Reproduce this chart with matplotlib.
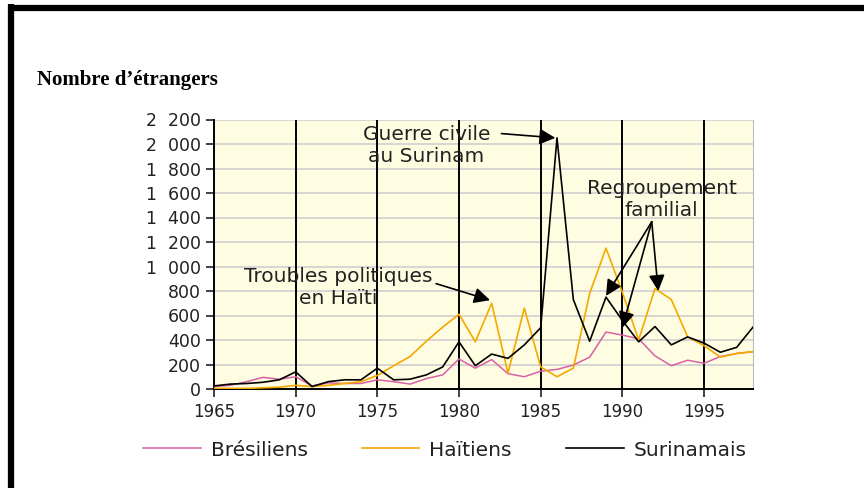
import matplotlib
matplotlib.use('Agg')
import matplotlib.pyplot as plt
from matplotlib.lines import Line2D

# data
years = list(range(1965, 1999))
bresiliens = [20, 30, 60, 95, 80, 100, 25, 50, 45, 45, 75, 60, 40, 85, 115, 245, 170,
              240, 125, 100, 145, 160, 195, 260, 465, 440, 410, 270, 190, 235, 210, 265, 290, 305]
haitiens = [5, 5, 5, 10, 15, 30, 20, 30, 45, 60, 110, 190, 265, 390, 505, 610, 385,
            700, 130, 660, 180, 100, 170, 780, 1150, 790, 400, 820, 730, 425, 355, 260, 290, 305]
surinamais = [25, 40, 45, 55, 75, 140, 20, 60, 75, 75, 170, 75, 80, 115, 180, 385, 190,
              285, 250, 360, 500, 2050, 730, 390, 750, 560, 385, 510, 360, 425, 375, 300, 340, 505]

yticks = list(range(0, 2201, 200))
ytick_labels = ['{:,}'.format(v).replace(',', '  ') for v in yticks]
xticks = list(range(1965, 1996, 5))

fig = plt.figure(figsize=(8.64, 4.88), dpi=100)
ax = fig.add_axes([214/864, 1-389/488, 539/864, 269.5/488])
ax.set_facecolor('#fffde1')

for y in yticks:
    ax.axhline(y, color='#cfcfcf', lw=1.2, zorder=0)
for x in xticks[1:]:
    ax.axvline(x, color='black', lw=1.4, zorder=1)

ax.plot(years, bresiliens, color='#d860a8', lw=1.1, label='Brésiliens', zorder=3)
ax.plot(years, haitiens, color='#f5a800', lw=1.2, label='Haïtiens', zorder=3)
ax.plot(years, surinamais, color='black', lw=1.2, label='Surinamais', zorder=4)

ax.set_xlim(1965, 1998)
ax.set_ylim(0, 2200)
ax.set_xticks(xticks)
ax.set_yticks(yticks)
ax.set_yticklabels(ytick_labels)
ax.tick_params(labelsize=12, colors='#222222', length=6, width=1.2, direction='out')
ax.tick_params(axis='y', labelsize=12.5)
ax.tick_params(axis='x', pad=4)
ax.spines['top'].set_visible(False)
ax.spines['right'].set_color('#bbbbbb')
ax.spines['left'].set_linewidth(1.4)
ax.spines['bottom'].set_linewidth(1.4)

# annotations
txt = dict(fontsize=14.5, color='#222222', ha='center', va='center', linespacing=1.2, zorder=6)
arr = dict(arrowstyle='-|>', color='black', lw=1.2, mutation_scale=24, shrinkA=0, shrinkB=0)
ax.text(1978.0, 1990, 'Guerre civile\nau Surinam', **txt)
ax.annotate('', xy=(1985.9, 2050), xytext=(1982.6, 2085), arrowprops=arr, zorder=6)
ax.text(1972.6, 825, 'Troubles politiques\nen Haïti', **txt)
ax.annotate('', xy=(1981.9, 725), xytext=(1978.6, 860), arrowprops=arr, zorder=6)
ax.text(1992.4, 1545, 'Regroupement\nfamilial', **txt)
for tx, ty in [(1989.0, 760), (1990.0, 500), (1992.2, 800)]:
    ax.annotate('', xy=(tx, ty), xytext=(1991.8, 1365), arrowprops=arr, zorder=6)

fig.text(37/864, 1-80/488, 'Nombre d\u2019étrangers', family='Liberation Serif',
         fontweight='bold', fontsize=15, va='center', ha='left')

fig.legend(loc='center', bbox_to_anchor=(0.515, 1-450/488), ncol=3, frameon=False,
           fontsize=14.5, handlelength=2.85, handletextpad=0.5, columnspacing=2.7,
           labelcolor='#222222')

# black frame
fig.add_artist(Line2D([8/864, 1], [1-8/488, 1-8/488], color='black', lw=4.5,
                      solid_capstyle='butt', transform=fig.transFigure))
fig.add_artist(Line2D([11/864, 11/864], [0, 1-4/488], color='black', lw=4.5,
                      solid_capstyle='butt', transform=fig.transFigure))

fig.savefig('out.png', dpi=100)
